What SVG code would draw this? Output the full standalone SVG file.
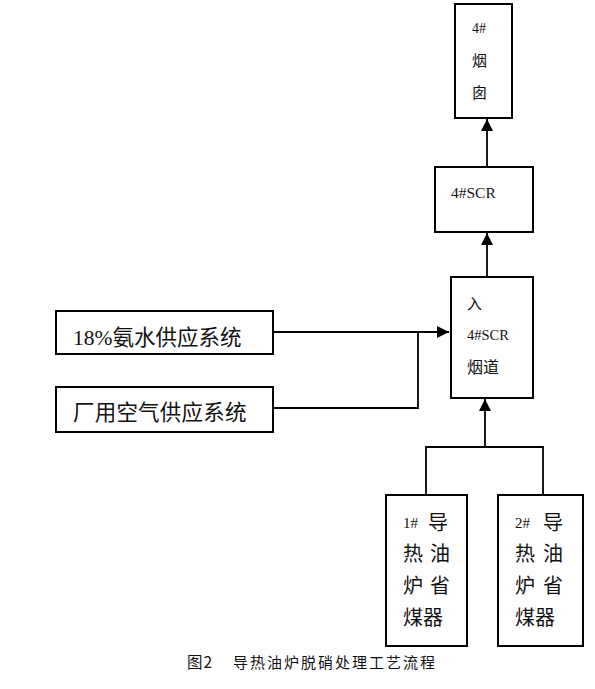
<svg xmlns="http://www.w3.org/2000/svg" width="595" height="689" viewBox="0 0 595 689">
<style>
.box{fill:#fff;stroke:#000;stroke-width:2}
.ln{fill:none;stroke:#000;stroke-width:1.8}
.cj{font-family:"Noto Sans CJK SC","Noto Sans",sans-serif;fill:#111}
.tm{font-family:"Liberation Serif","Noto Sans CJK SC",serif;fill:#111}
</style>
<defs>
<marker id="ah" viewBox="0 0 10 10" refX="10" refY="5" markerWidth="12" markerHeight="12" markerUnits="userSpaceOnUse" orient="auto">
<path d="M0,0 L10,5 L0,10 Z" fill="#000"/>
</marker>
</defs>
<rect width="595" height="689" fill="#fff"/>
<g id="connectors">
<line class="ln" x1="487" y1="167" x2="487" y2="119" marker-end="url(#ah)"/>
<line class="ln" x1="487" y1="276" x2="487" y2="233" marker-end="url(#ah)"/>
<line class="ln" x1="273" y1="332" x2="449" y2="332" marker-end="url(#ah)"/>
<polyline class="ln" points="273,408 418,408 418,332"/>
<line class="ln" x1="485" y1="447" x2="485" y2="399" marker-end="url(#ah)"/>
<polyline class="ln" points="426,495 426,447 543,447 543,495"/>
</g>
<g id="chimney">
<rect class="box" x="455" y="4" width="57" height="114"/>
<text class="tm" x="472" y="33" font-size="14">4#</text>
<text class="cj" x="472" y="66" font-size="15">烟</text>
<text class="cj" x="472" y="98" font-size="15">囱</text>
</g>
<g id="scr">
<rect class="box" x="435" y="167" width="98" height="65"/>
<text class="tm" x="451" y="198" font-size="15.5">4#SCR</text>
</g>
<g id="duct">
<rect class="box" x="451" y="277" width="82" height="121"/>
<text class="cj" x="467" y="309" font-size="15">入</text>
<text class="tm" x="467" y="340" font-size="14.5">4#SCR</text>
<text class="cj" x="467" y="373" font-size="16">烟道</text>
</g>
<g id="ammonia">
<rect class="box" x="56" y="311" width="217" height="43"/>
<text x="73" y="345" font-size="21.5"><tspan class="tm">18%</tspan><tspan class="cj">氨水供应系统</tspan></text>
</g>
<g id="air">
<rect class="box" x="56" y="387" width="217" height="45"/>
<text class="cj" x="73" y="420" font-size="21.5" letter-spacing="0.2">厂用空气供应系统</text>
</g>
<g id="econ1">
<rect class="box" x="386" y="495" width="81" height="151"/>
<text class="tm" x="403" y="528" font-size="15">1#</text>
<text class="cj" font-size="20"><tspan x="428" y="530">导</tspan><tspan x="403" y="561">热</tspan><tspan x="430" y="561">油</tspan><tspan x="403" y="593">炉</tspan><tspan x="430" y="593">省</tspan><tspan x="403" y="625">煤器</tspan></text>
</g>
<g id="econ2">
<rect class="box" x="498" y="495" width="85" height="151"/>
<text class="tm" x="515" y="528" font-size="15">2#</text>
<text class="cj" font-size="20"><tspan x="543" y="530">导</tspan><tspan x="515" y="561">热</tspan><tspan x="543" y="561">油</tspan><tspan x="515" y="593">炉</tspan><tspan x="543" y="593">省</tspan><tspan x="515" y="625">煤器</tspan></text>
</g>
<text class="cj" x="187" y="668" font-size="15.5" letter-spacing="1">图2</text>
<text class="cj" x="233" y="668" font-size="15" letter-spacing="2">导热油炉脱硝处理工艺流程</text>
</svg>
